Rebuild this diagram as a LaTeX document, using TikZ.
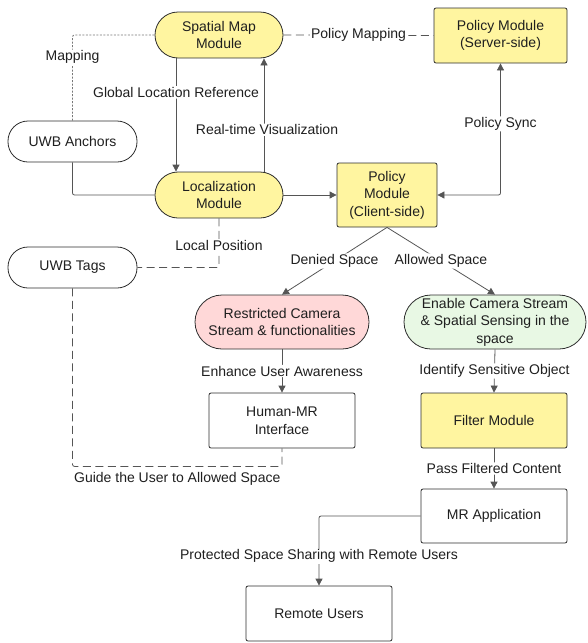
\documentclass[tikz,border=0pt]{standalone}
\usepackage{fontspec}
\setmainfont{Liberation Sans}
\usepackage{xcolor}
\usetikzlibrary{arrows.meta}
\definecolor{modyellow}{RGB}{255,245,160}
\definecolor{denypink}{RGB}{255,216,216}
\definecolor{allowgreen}{RGB}{232,248,228}
\definecolor{edgegray}{RGB}{85,85,85}
\definecolor{bordergray}{RGB}{45,45,45}
\begin{document}
\begin{tikzpicture}[x=1pt, y=-1pt,
	every node/.style={font=\fontsize{14}{17.5}\selectfont, text=black!88},
	box/.style={draw=bordergray, line width=0.8pt, rounded corners=2pt, inner sep=0pt, align=center},
	pill/.style={box, rounded corners=#1},
	pill/.default=20pt,
	lbl/.style={fill=white, inner sep=1pt},
	line/.style={draw=edgegray, line width=0.8pt, rounded corners=2pt},
	arr/.style={line, -{Triangle[length=7pt, width=7pt]}},
	biarr/.style={line, {Triangle[length=7pt, width=7pt]}-{Triangle[length=7pt, width=7pt]}},
	dashline/.style={line, dash pattern=on 8pt off 4.5pt},
	dotline/.style={line, draw=edgegray!80, dash pattern=on 2pt off 1.5pt}]
	\useasboundingbox (0,0) rectangle (587,643);
	\node[pill=23pt, fill=modyellow, minimum width=128pt, minimum height=46pt] (map) at (219,35) {Spatial Map\\Module};
	\node[box, fill=modyellow, minimum width=133pt, minimum height=55pt] (server) at (500.5,35.5) {Policy Module\\(Server-side)};
	\node[pill, fill=white, minimum width=129pt, minimum height=41pt] (anchors) at (72.5,141.5) {UWB Anchors};
	\node[pill=23pt, fill=modyellow, minimum width=128pt, minimum height=46pt] (loc) at (219,195) {Localization\\Module};
	\node[box, fill=modyellow, minimum width=100pt, minimum height=64pt] (client) at (387,195) {Policy\\Module\\(Client-side)};
	\node[pill, fill=white, minimum width=129pt, minimum height=41pt] (tags) at (72.5,267.5) {UWB Tags};
	\node[pill=27pt, fill=denypink, minimum width=174pt, minimum height=54pt] (restr) at (282,322) {Restricted Camera\\Stream \& functionalities};
	\node[pill=27pt, fill=allowgreen, minimum width=182pt, minimum height=54pt] (enable) at (495,322) {Enable Camera Stream\\\& Spatial Sensing in the\\space};
	\node[box, fill=white, minimum width=146pt, minimum height=55pt] (hmr) at (282,420.5) {Human-MR\\Interface};
	\node[box, fill=modyellow, minimum width=146pt, minimum height=55pt] (filter) at (494,420.5) {Filter Module};
	\node[box, fill=white, minimum width=146pt, minimum height=54pt] (mrapp) at (494,516) {MR Application};
	\node[box, fill=white, minimum width=146pt, minimum height=55pt] (remote) at (319,613.5) {Remote Users};

	\draw[arr] ([xshift=-43pt]map.south) -- node[lbl, pos=0.3] {Global Location Reference} ([xshift=-43pt]loc.north);
	\draw[arr] ([xshift=45pt]loc.north) -- node[lbl, pos=0.37, xshift=3pt] {Real-time Visualization} ([xshift=45pt]map.south);
	\draw[line] (anchors.south) |- (loc.west);
	\draw[dotline] (anchors.north) |- node[lbl, pos=0.37] {Mapping} (map.west);
	\draw[dashline] (map.east) -- node[lbl] {Policy Mapping} (server.west);
	\draw[arr] (loc.east) -- (client.west);
	\draw[biarr] (server.south) |- node[lbl, pos=0.23] {Policy Sync} (client.east);
	\draw[dashline] (loc.south) |- node[lbl, pos=0.28] {Local Position} (tags.east);
	\draw[arr] (client.south) -- node[lbl] {Denied Space} (restr.north);
	\draw[arr] (client.south) -- node[lbl] {Allowed Space} (enable.north);
	\draw[arr] (restr.south) -- node[lbl] {Enhance User Awareness} (hmr.north);
	\draw[arr] (enable.south) -- node[lbl] {Identify Sensitive Object} (filter.north);
	\draw[dashline] (tags.south) |- node[lbl, below=5pt, pos=0.75] {Guide the User to Allowed Space} ([yshift=-18pt]hmr.south) -- (hmr.south);
	\draw[arr] (filter.south) -- node[lbl] {Pass Filtered Content} (mrapp.north);
	\draw[arr] (mrapp.west) -| node[lbl, pos=0.79] {Protected Space Sharing with Remote Users} (remote.north);
\end{tikzpicture}
\end{document}
